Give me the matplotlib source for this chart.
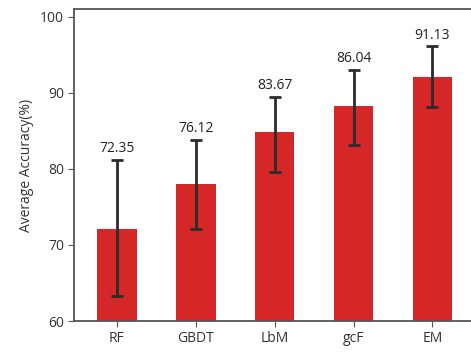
import matplotlib.pyplot as plt
import numpy as np

plt.rcParams['font.family'] = ['Open Sans', 'DejaVu Sans']

models = ['RF', 'GBDT', 'LbM', 'gcF', 'EM']
acc = [72.1, 78.0, 84.8, 88.3, 92.1]
err_low = [8.8, 5.9, 5.2, 5.1, 3.9]
err_high = [9.1, 5.8, 4.7, 4.7, 4.0]
labels = ['72.35', '76.12', '83.67', '86.04', '91.13']

fig = plt.figure(figsize=(4.71, 3.52), dpi=100)
ax = fig.add_axes([0.158, 0.088, 0.842, 0.886])
x = np.arange(len(models))
ax.bar(x, acc, width=0.5, color='#d62728', yerr=[err_low, err_high],
       error_kw=dict(ecolor='#2b2b2b', elinewidth=2, capsize=4.5, capthick=2))
for i in range(len(models)):
    ax.text(x[i], acc[i] + err_high[i] + 0.5, labels[i], ha='center', va='bottom',
            fontsize=10, color='#222222')

ax.set_ylim(60, 101)
ax.set_xlim(-0.54, 4.49)
ax.set_yticks([60, 70, 80, 90, 100])
ax.set_xticks(x)
ax.set_xticklabels(models)
ax.set_ylabel('Average Accuracy(%)', fontsize=10, color='#333333')
ax.spines['right'].set_visible(False)
for s in ['left', 'bottom', 'top']:
    ax.spines[s].set_color('#555555')
    ax.spines[s].set_linewidth(1.3)
ax.tick_params(colors='#333333', labelsize=10, length=4, color='#555555')

fig.savefig('out.png', dpi=100)
